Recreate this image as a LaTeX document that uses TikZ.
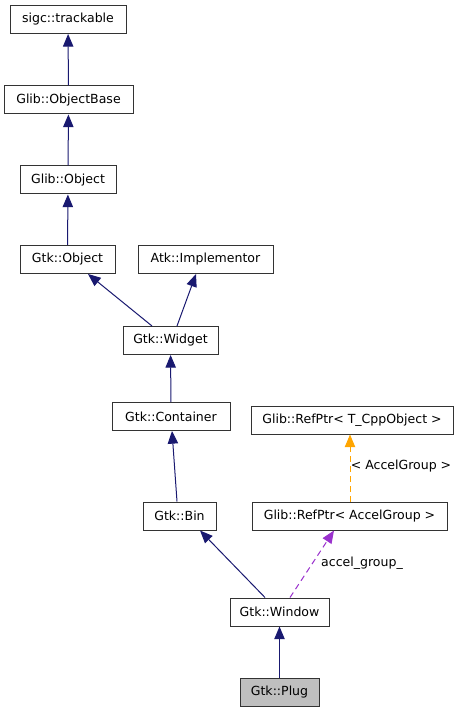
\documentclass[tikz,border=0pt]{standalone}
\usepackage{fontspec}
\setmainfont{DejaVu Sans}
\usetikzlibrary{arrows.meta}
\definecolor{navy}{HTML}{191970}
\definecolor{purp}{HTML}{9A32CD}
\definecolor{orng}{HTML}{FFA500}
\begin{document}
\begin{tikzpicture}[x=0.75pt,y=-0.75pt,
  cls/.style={draw=black!80,line width=0.75pt,fill=white,inner sep=0pt,minimum height=21pt,font=\fontsize{9.4}{11}\selectfont},
  inh/.style={draw=navy,line width=0.75pt,-{Triangle[length=9.5pt,width=7.8pt]}},
  use/.style={line width=0.75pt,dash pattern=on 4.5pt off 3pt,-{Triangle[length=9.5pt,width=7.8pt]}},
  lbl/.style={font=\fontsize{9.4}{11}\selectfont,inner sep=0pt}]
\useasboundingbox (0,0) rectangle (460,712);
\node[cls,minimum width=87pt] (trk) at (68,19.5) {sigc::trackable};
\node[cls,minimum width=96.75pt] (ob) at (68.5,100) {Glib::ObjectBase};
\node[cls,minimum width=72pt] (gobj) at (68,180) {Glib::Object};
\node[cls,minimum width=71.25pt] (gtkobj) at (67.5,259.5) {Gtk::Object};
\node[cls,minimum width=101.25pt] (atk) at (205.5,259.5) {Atk::Implementor};
\node[cls,minimum width=71.25pt] (wid) at (170.5,340.5) {Gtk::Widget};
\node[cls,minimum width=88.5pt] (cont) at (171,416.5) {Gtk::Container};
\node[cls,minimum width=54.75pt] (bin) at (179.5,516) {Gtk::Bin};
\node[cls,minimum width=151.5pt] (rpt) at (352,420) {Glib::RefPtr< T\_CppObject >};
\node[cls,minimum width=146.25pt] (rpa) at (349.5,516) {Glib::RefPtr< AccelGroup >};
\node[cls,minimum width=74.25pt] (win) at (279.5,612) {Gtk::Window};
\node[cls,minimum width=59.25pt,fill=black!25] (plug) at (279.5,692) {Gtk::Plug};
\draw[inh] (ob) -- (trk);
\draw[inh] (gobj) -- (ob);
\draw[inh] (gtkobj) -- (gobj);
\draw[inh] (152,0 |- wid.north) -- (88,0 |- gtkobj.south);
\draw[inh] (177,0 |- wid.north) -- (196,0 |- atk.south);
\draw[inh] (cont) -- (wid);
\draw[inh] (177,0 |- bin.north) -- (172,0 |- cont.south);
\draw[inh] (265,0 |- win.north) -- (200,0 |- bin.south);
\draw[use,draw=purp] (290,0 |- win.north) -- (334,0 |- rpa.south);
\draw[use,draw=orng] (350,0 |- rpa.north) -- (350,0 |- rpt.south);
\draw[inh] (plug) -- (win);
\node[lbl] (l1) at (362,563) {accel\_group\_};
\node[lbl] (l2) at (401,466) {< AccelGroup >};
\end{tikzpicture}
\end{document}
